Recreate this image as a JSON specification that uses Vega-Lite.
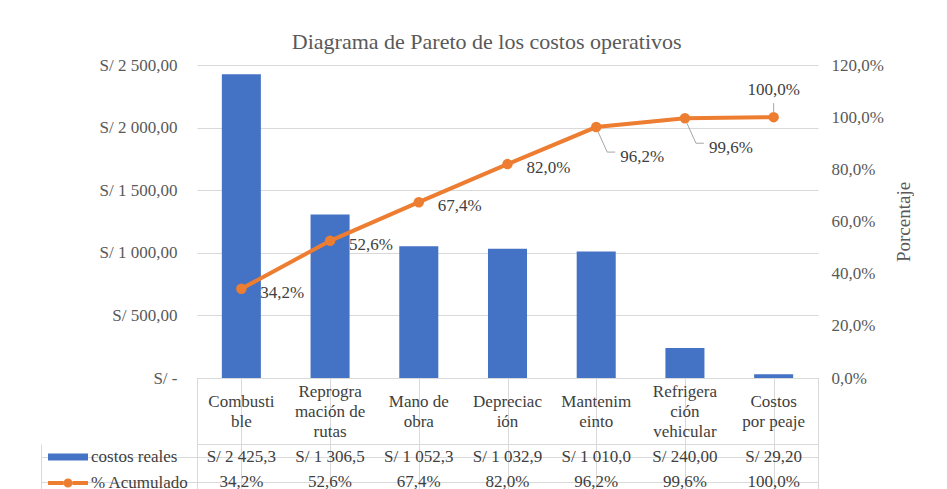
{
  "$schema": "https://vega.github.io/schema/vega-lite/v6.json",
  "padding": {"left": 40, "top": 31, "right": 0, "bottom": 0},
  "background": "white",
  "bounds": "flush",
  "title": {"text": "Diagrama de Pareto de los costos operativos", "font": "Liberation Serif", "fontSize": 22, "fontWeight": "normal", "color": "#595959", "anchor": "middle", "offset": 2, "dx": 10},
  "config": {
    "locale": {"number": {"decimal": ",", "thousands": " ", "grouping": [3], "currency": ["S/ ", ""]}},
    "view": {"stroke": null},
    "axis": {"labelFont": "Liberation Serif", "titleFont": "Liberation Serif"},
    "legend": {"labelFont": "Liberation Serif"}
  },
  "datasets": {
    "costos": [
      {"categoria": "Combustible", "etiqueta": "Combusti\nble", "costo": 2425.3, "costo_txt": "S/ 2 425,3", "pct": 0.342},
      {"categoria": "Reprogramación de rutas", "etiqueta": "Reprogra\nmación de\nrutas", "costo": 1306.5, "costo_txt": "S/ 1 306,5", "pct": 0.526},
      {"categoria": "Mano de obra", "etiqueta": "Mano de\nobra", "costo": 1052.3, "costo_txt": "S/ 1 052,3", "pct": 0.674},
      {"categoria": "Depreciación", "etiqueta": "Depreciac\nión", "costo": 1032.9, "costo_txt": "S/ 1 032,9", "pct": 0.820},
      {"categoria": "Mantenimeinto", "etiqueta": "Mantenim\neinto", "costo": 1010.0, "costo_txt": "S/ 1 010,0", "pct": 0.962},
      {"categoria": "Refrigeración vehicular", "etiqueta": "Refrigera\nción\nvehicular", "costo": 240.0, "costo_txt": "S/ 240,00", "pct": 0.996},
      {"categoria": "Costos por peaje", "etiqueta": "Costos\npor peaje", "costo": 29.2, "costo_txt": "S/ 29,20", "pct": 1.0}
    ]
  },
  "spacing": 0,
  "resolve": {"scale": {"x": "independent", "y": "independent"}},
  "vconcat": [
    {
      "width": 621,
      "height": 313,
      "data": {"name": "costos"},
      "encoding": {
        "x": {
          "field": "categoria", "type": "nominal", "sort": null,
          "scale": {"domain": ["Combustible", "Reprogramación de rutas", "Mano de obra", "Depreciación", "Mantenimeinto", "Refrigeración vehicular", "Costos por peaje"], "paddingInner": 0, "paddingOuter": 0},
          "axis": null
        }
      },
      "layer": [
        {
          "mark": {"type": "bar", "width": {"band": 0.44}},
          "encoding": {
            "y": {
              "field": "costo", "type": "quantitative",
              "scale": {"domain": [0, 2500]},
              "axis": {
                "values": [0, 500, 1000, 1500, 2000, 2500],
                "labelExpr": "datum.value === 0 ? 'S/ -' : format(datum.value, '$,.2f')",
                "title": null, "grid": true, "gridColor": "#d9d9d9", "domain": false, "ticks": false,
                "labelPadding": 20, "labelFont": "Liberation Serif", "labelFontSize": 17, "labelColor": "#595959"
              }
            },
            "color": {
              "datum": "costos reales", "type": "nominal",
              "scale": {"domain": ["costos reales", "% Acumulado"], "range": ["#4472C4", "#ED7D31"]},
              "legend": {
                "orient": "none", "legendX": -149, "legendY": 382, "title": null, "direction": "vertical",
                "symbolSize": 400, "labelFontSize": 17, "labelColor": "#404040", "labelOffset": 23,
                "rowPadding": 8, "symbolStrokeWidth": 0,
                "encode": {
                  "symbols": {
                    "update": {
                      "shape": {"signal": "datum.value === 'costos reales' ? 'M-1,-0.35H3V0.35H-1Z' : 'M-1,-0.2H0.55V0.2H-1Z M1.45,-0.2H3V0.2H1.45Z M1.45,0A0.45,0.45 0 1,1 0.55,0A0.45,0.45 0 1,1 1.45,0Z'"},
                      "fill": {"signal": "datum.value === 'costos reales' ? '#4472C4' : '#ED7D31'"},
                      "stroke": {"value": "transparent"},
                      "opacity": {"value": 1},
                      "fillOpacity": {"value": 1}
                    }
                  }
                }
              }
            }
          }
        },
        {
          "encoding": {
            "y": {
              "field": "pct", "type": "quantitative",
              "scale": {"domain": [0, 1.2]},
              "axis": {
                "orient": "right", "values": [0, 0.2, 0.4, 0.6, 0.8, 1.0, 1.2], "format": ".1%",
                "title": "Porcentaje", "titleFont": "Liberation Serif", "titleFontSize": 19, "titleFontWeight": "normal", "titleColor": "#595959", "titlePadding": 30, "titleAngle": 270,
                "grid": false, "domain": false, "ticks": false,
                "labelPadding": 13, "labelFont": "Liberation Serif", "labelFontSize": 17, "labelColor": "#595959"
              }
            }
          },
          "layer": [
            {
              "mark": {"type": "line", "strokeWidth": 4, "point": {"filled": true, "size": 110, "opacity": 1}},
              "encoding": {"color": {"datum": "% Acumulado", "type": "nominal"}}
            },
            {
              "transform": [{"filter": {"field": "categoria", "oneOf": ["Mantenimeinto", "Refrigeración vehicular"]}}],
              "mark": {"type": "rule", "color": "#a6a6a6", "strokeWidth": 1, "xOffset": 2, "x2Offset": 11, "yOffset": 5, "y2Offset": 25},
              "encoding": {"x2": {"field": "categoria", "bandPosition": 0.5}, "y2": {"field": "pct"}}
            },
            {
              "transform": [{"filter": {"field": "categoria", "oneOf": ["Mantenimeinto", "Refrigeración vehicular"]}}],
              "mark": {"type": "rule", "color": "#a6a6a6", "strokeWidth": 1, "xOffset": 11, "x2Offset": 19, "yOffset": 25},
              "encoding": {"x2": {"field": "categoria", "bandPosition": 0.5}}
            },
            {
              "transform": [{"filter": {"field": "categoria", "equal": "Costos por peaje"}}],
              "mark": {"type": "rule", "color": "#a6a6a6", "strokeWidth": 1, "yOffset": -14, "y2Offset": -4},
              "encoding": {"y2": {"field": "pct"}}
            },
            {
              "transform": [{"filter": {"field": "categoria", "oneOf": ["Combustible", "Reprogramación de rutas", "Mano de obra", "Depreciación"]}}],
              "mark": {"type": "text", "align": "left", "baseline": "middle", "dx": 19, "dy": 4, "font": "Liberation Serif", "fontSize": 17, "color": "#404040"},
              "encoding": {"text": {"field": "pct", "type": "quantitative", "format": ".1%"}}
            },
            {
              "transform": [{"filter": {"field": "categoria", "oneOf": ["Mantenimeinto", "Refrigeración vehicular"]}}],
              "mark": {"type": "text", "align": "left", "baseline": "middle", "dx": 24, "dy": 30, "font": "Liberation Serif", "fontSize": 17, "color": "#404040"},
              "encoding": {"text": {"field": "pct", "type": "quantitative", "format": ".1%"}}
            },
            {
              "transform": [{"filter": {"field": "categoria", "equal": "Costos por peaje"}}],
              "mark": {"type": "text", "align": "center", "baseline": "middle", "dy": -27, "font": "Liberation Serif", "fontSize": 17, "color": "#404040"},
              "encoding": {"text": {"field": "pct", "type": "quantitative", "format": ".1%"}}
            }
          ]
        }
      ],
      "resolve": {"scale": {"y": "independent"}}
    },
    {
      "width": 621,
      "height": 66,
      "data": {"name": "costos"},
      "view": {"stroke": "#d9d9d9"},
      "encoding": {
        "x": {
          "field": "categoria", "type": "nominal", "sort": null,
          "scale": {"domain": ["Combustible", "Reprogramación de rutas", "Mano de obra", "Depreciación", "Mantenimeinto", "Refrigeración vehicular", "Costos por peaje"], "paddingInner": 0, "paddingOuter": 0},
          "axis": {"labels": false, "ticks": false, "domain": false, "title": null, "grid": true, "gridColor": "#d9d9d9", "bandPosition": 0}
        },
        "text": {"field": "etiqueta"}
      },
      "layer": [
        {
          "transform": [{"filter": {"field": "categoria", "oneOf": ["Combustible", "Mano de obra", "Depreciación", "Mantenimeinto", "Costos por peaje"]}}],
          "mark": {"type": "text", "font": "Liberation Serif", "fontSize": 17, "color": "#404040", "baseline": "middle", "lineBreak": "\n", "lineHeight": 20, "dy": -9}
        },
        {
          "transform": [{"filter": {"field": "categoria", "oneOf": ["Reprogramación de rutas", "Refrigeración vehicular"]}}],
          "mark": {"type": "text", "font": "Liberation Serif", "fontSize": 17, "color": "#404040", "baseline": "middle", "lineBreak": "\n", "lineHeight": 20, "dy": -19}
        }
      ]
    },
    {
      "width": 621,
      "height": 50,
      "data": {"name": "costos"},
      "view": {"stroke": "#d9d9d9"},
      "encoding": {
        "x": {
          "field": "categoria", "type": "nominal", "sort": null,
          "scale": {"domain": ["Combustible", "Reprogramación de rutas", "Mano de obra", "Depreciación", "Mantenimeinto", "Refrigeración vehicular", "Costos por peaje"], "paddingInner": 0, "paddingOuter": 0},
          "axis": {"labels": false, "ticks": false, "domain": false, "title": null, "grid": true, "gridColor": "#d9d9d9", "bandPosition": 0}
        }
      },
      "layer": [
        {
          "mark": {"type": "text", "font": "Liberation Serif", "fontSize": 17, "color": "#404040", "baseline": "middle"},
          "encoding": {
            "y": {
              "datum": "costos reales", "type": "nominal",
              "scale": {"domain": ["costos reales", "% Acumulado"], "paddingInner": 0, "paddingOuter": 0},
              "axis": {"labels": false, "title": null, "offset": 156, "tickSize": -156, "tickColor": "#d9d9d9", "domainColor": "#d9d9d9", "bandPosition": 0, "grid": true, "gridColor": "#d9d9d9"}
            },
            "text": {"field": "costo_txt"}
          }
        },
        {
          "mark": {"type": "text", "font": "Liberation Serif", "fontSize": 17, "color": "#404040", "baseline": "middle"},
          "encoding": {
            "y": {"datum": "% Acumulado", "type": "nominal"},
            "text": {"field": "pct", "type": "quantitative", "format": ".1%"}
          }
        }
      ]
    }
  ]
}
